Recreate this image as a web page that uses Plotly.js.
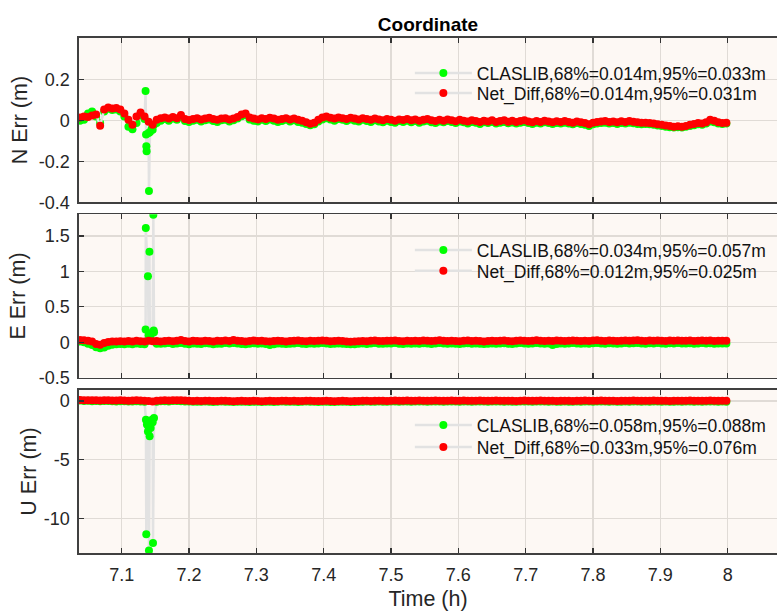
<!DOCTYPE html>
<html>
<head>
<meta charset="utf-8">
<script src="https://cdn.plot.ly/plotly-3.0.1.min.js"></script>
<style>html,body{margin:0;padding:0;background:#fff;}#chart{width:777px;height:613px;}</style>
</head>
<body>
<div id="chart"></div>
<script>
// epoch grid (hours)
const T0 = 7.038, DT = 0.006;
const xTickVals = [7.1,7.2,7.3,7.4,7.5,7.6,7.7,7.8,7.9,8.0];
const xTickText = ['7.1','7.2','7.3','7.4','7.5','7.6','7.7','7.8','7.9','8'];
const legN = ['CLASLIB,68%=0.014m,95%=0.033m','Net_Diff,68%=0.014m,95%=0.031m'];
const legE = ['CLASLIB,68%=0.034m,95%=0.057m','Net_Diff,68%=0.012m,95%=0.025m'];
const legU = ['CLASLIB,68%=0.058m,95%=0.088m','Net_Diff,68%=0.033m,95%=0.076m'];

// N error (m)
const nNet = [
0.015,0.02,0.018,0.025,0.03,-0.025,0.055,0.065,0.06,0.062,
0.055,0.035,0.005,-0.02,0.02,0.04,0.02,-0.005,-0.02,0.005,
0.012,0.015,0.01,0.018,0.012,0.028,0.008,0.003,0.008,0.012,
0.006,0.01,0.014,0.008,0.004,0.01,0.012,0.006,0.01,0.018,
0.03,0.035,0.015,0.01,0.006,0.012,0.008,0.014,0.01,0.004,
0.008,0.012,0.006,0.01,0.004,0.0,-0.008,-0.015,-0.01,0.005,
0.015,0.02,0.014,0.01,0.016,0.012,0.008,0.014,0.01,0.006,
0.012,0.008,0.004,0.01,0.006,0.002,0.008,0.004,0.0,0.006,
0.003,0.008,0.002,0.006,0.0,0.004,0.008,0.002,-0.002,0.004,
0.0,0.006,0.002,-0.003,0.004,0.0,-0.004,0.002,-0.002,-0.006,
0.0,-0.004,0.002,-0.006,-0.002,0.002,-0.005,-0.001,-0.006,-0.002,
0.002,-0.004,-0.008,-0.002,-0.006,0.0,-0.004,-0.008,-0.003,-0.006,
-0.002,-0.006,-0.01,-0.004,-0.008,-0.012,-0.018,-0.01,-0.006,-0.004,
-0.002,-0.006,-0.004,-0.008,-0.003,-0.006,-0.002,-0.005,-0.008,-0.01,
-0.01,-0.012,-0.014,-0.018,-0.02,-0.024,-0.026,-0.03,-0.028,-0.03,
-0.026,-0.02,-0.016,-0.012,-0.014,-0.008,0.004,0.0,-0.008,-0.012,-0.01];
const nCla = [
0.0,0.004,0.035,0.045,0.02,-0.012,0.045,0.058,0.052,0.055,
0.045,0.02,-0.03,-0.042,-0.012,0.025,0.008,-0.06,-0.045,-0.012,
0.0,0.008,0.0,0.01,0.004,0.018,-0.002,-0.006,0.0,0.004,
-0.004,0.002,0.006,-0.002,-0.006,0.002,0.004,-0.004,0.002,0.01,
0.022,0.028,0.006,0.0,-0.004,0.004,-0.002,0.006,0.0,-0.006,
-0.002,0.004,-0.004,0.002,-0.006,-0.01,-0.016,-0.022,-0.018,-0.004,
0.006,0.012,0.006,0.0,0.008,0.004,-0.002,0.006,0.0,-0.004,
0.004,-0.002,-0.006,0.002,-0.004,-0.008,0.0,-0.006,-0.01,-0.002,
-0.006,0.0,-0.008,-0.002,-0.01,-0.004,0.0,-0.008,-0.012,-0.004,
-0.008,-0.002,-0.006,-0.012,-0.004,-0.008,-0.014,-0.006,-0.01,-0.016,
-0.008,-0.012,-0.006,-0.014,-0.01,-0.006,-0.013,-0.009,-0.014,-0.01,
-0.006,-0.012,-0.016,-0.01,-0.014,-0.008,-0.012,-0.016,-0.011,-0.014,
-0.01,-0.014,-0.018,-0.012,-0.016,-0.02,-0.026,-0.018,-0.014,-0.012,
-0.01,-0.014,-0.012,-0.016,-0.011,-0.014,-0.01,-0.013,-0.016,-0.018,
-0.016,-0.018,-0.02,-0.024,-0.026,-0.03,-0.032,-0.034,-0.032,-0.034,
-0.03,-0.026,-0.022,-0.018,-0.02,-0.014,-0.004,-0.008,-0.014,-0.016,-0.014];
const nSpikeT = [7.1355,7.1362,7.1366,7.137,7.1405,7.142,7.1445,7.148];
const nSpikeV = [0.145,-0.068,-0.125,-0.15,-0.345,-0.055,-0.04,-0.02];

// E error (m)
const eNet = [
0.03,0.028,0.02,0.01,-0.025,-0.035,-0.01,0.005,0.01,0.012,
0.015,0.01,0.018,0.012,0.02,0.015,0.01,0.02,0.014,0.018,
0.012,0.018,0.022,0.014,0.02,0.03,0.016,0.012,0.02,0.018,
0.014,0.022,0.018,0.012,0.02,0.016,0.024,0.018,0.03,0.022,
0.016,0.012,0.018,0.024,0.016,0.02,0.014,0.01,0.016,0.022,
0.018,0.012,0.016,0.02,0.026,0.018,0.014,0.02,0.016,0.022,
0.026,0.02,0.014,0.018,0.022,0.016,0.012,0.008,0.01,0.014,
0.018,0.014,0.02,0.024,0.018,0.016,0.022,0.02,0.026,0.018,
0.014,0.02,0.016,0.022,0.018,0.024,0.02,0.016,0.022,0.028,
0.02,0.016,0.022,0.018,0.014,0.02,0.024,0.018,0.022,0.016,
0.012,0.018,0.022,0.016,0.02,0.024,0.018,0.014,0.02,0.026,
0.02,0.016,0.022,0.028,0.02,0.016,0.022,0.018,0.024,0.02,
0.016,0.022,0.026,0.02,0.016,0.022,0.018,0.024,0.028,0.022,
0.018,0.024,0.02,0.016,0.022,0.026,0.02,0.024,0.028,0.022,
0.018,0.024,0.02,0.026,0.022,0.018,0.024,0.02,0.026,0.022,
0.02,0.024,0.018,0.022,0.026,0.02,0.024,0.018,0.022,0.02,0.022];
const eCla = [
0.01,0.0,-0.02,-0.04,-0.07,-0.085,-0.075,-0.05,-0.035,-0.03,
-0.025,-0.03,-0.02,-0.028,-0.018,-0.024,-0.03,0.1,0.14,-0.02,
-0.022,-0.016,-0.012,-0.024,-0.018,-0.01,-0.02,-0.028,-0.016,-0.02,
-0.026,-0.014,-0.018,-0.03,-0.02,-0.022,-0.012,-0.018,-0.01,-0.016,
-0.024,-0.028,-0.02,-0.014,-0.022,-0.018,-0.026,-0.04,-0.03,-0.016,
-0.02,-0.026,-0.022,-0.016,-0.01,-0.02,-0.024,-0.018,-0.022,-0.016,
-0.012,-0.018,-0.024,-0.02,-0.016,-0.022,-0.026,-0.03,-0.028,-0.022,
-0.018,-0.024,-0.016,-0.012,-0.02,-0.022,-0.016,-0.018,-0.012,-0.02,
-0.024,-0.018,-0.022,-0.016,-0.02,-0.014,-0.018,-0.024,-0.016,-0.01,
-0.018,-0.022,-0.016,-0.02,-0.026,-0.018,-0.014,-0.02,-0.016,-0.022,
-0.026,-0.02,-0.016,-0.022,-0.018,-0.014,-0.02,-0.024,-0.018,-0.012,
-0.018,-0.022,-0.016,-0.01,-0.018,-0.022,-0.016,-0.04,-0.024,-0.018,
-0.022,-0.016,-0.012,-0.018,-0.022,-0.016,-0.02,-0.014,-0.01,-0.016,
-0.02,-0.014,-0.018,-0.022,-0.016,-0.012,-0.018,-0.014,-0.01,-0.016,
-0.02,-0.014,-0.018,-0.012,-0.016,-0.02,-0.014,-0.018,-0.012,-0.016,
-0.018,-0.014,-0.02,-0.016,-0.012,-0.018,-0.014,-0.02,-0.016,-0.018,-0.016];
const eSpikeT = [7.1355,7.1358,7.139,7.1412,7.1418,7.143,7.147,7.1475,7.148];
const eSpikeV = [0.18,1.61,0.93,1.276,0.12,0.1,1.8,0.165,0.14];

// U error (m)
const uNet = [
0.08,0.06,0.07,0.05,0.06,0.04,0.05,0.06,0.04,0.03,
0.05,0.04,0.02,0.03,0.05,0.04,0.02,0.0,-0.04,0.02,
0.04,0.05,0.03,0.06,0.07,0.05,0.03,0.02,0.0,0.01,
0.0,0.02,0.01,-0.01,0.0,0.02,0.01,0.0,-0.02,0.0,
0.01,0.0,-0.01,0.01,0.0,-0.02,0.0,0.01,-0.01,0.0,
0.02,0.01,0.0,0.01,-0.01,0.0,0.02,0.01,0.0,-0.01,
0.0,0.01,-0.01,-0.02,0.0,0.01,0.0,-0.02,-0.01,0.0,
0.01,0.02,0.0,0.01,0.02,0.01,0.0,0.02,0.03,0.01,
0.02,0.03,0.01,0.02,0.03,0.02,0.01,0.02,0.03,0.02,
0.01,0.02,0.03,0.02,0.01,0.03,0.02,0.01,0.02,0.03,
0.02,0.01,0.02,0.03,0.02,0.01,0.02,0.01,0.0,0.02,
0.03,0.02,0.01,0.02,0.03,0.02,0.01,0.02,0.0,0.01,
0.02,0.01,0.0,0.02,0.01,0.03,0.02,0.01,0.02,0.03,
0.02,0.01,0.02,0.0,0.01,0.02,0.01,0.03,0.02,0.01,
0.02,0.01,0.03,0.02,0.01,0.02,0.0,0.01,0.02,0.01,
0.02,0.03,0.01,0.02,0.01,0.02,0.03,0.02,0.01,0.02,0.01];
const uCla = [
0.03,0.0,0.02,-0.02,0.0,-0.03,-0.01,0.0,-0.03,-0.04,
-0.02,-0.03,-0.05,-0.04,-0.02,-0.04,-0.06,-2.2,-1.8,-0.06,
-0.03,-0.02,-0.04,-0.01,0.0,-0.02,-0.04,-0.05,-0.07,-0.06,
-0.07,-0.05,-0.06,-0.08,-0.07,-0.05,-0.06,-0.07,-0.09,-0.07,
-0.06,-0.07,-0.08,-0.06,-0.07,-0.09,-0.07,-0.06,-0.08,-0.07,
-0.05,-0.06,-0.07,-0.06,-0.08,-0.07,-0.05,-0.06,-0.07,-0.08,
-0.07,-0.06,-0.08,-0.09,-0.07,-0.06,-0.07,-0.09,-0.08,-0.07,
-0.06,-0.05,-0.07,-0.06,-0.05,-0.06,-0.07,-0.05,-0.04,-0.06,
-0.05,-0.04,-0.06,-0.05,-0.04,-0.05,-0.06,-0.05,-0.04,-0.05,
-0.06,-0.05,-0.04,-0.05,-0.06,-0.04,-0.05,-0.06,-0.05,-0.04,
-0.05,-0.06,-0.05,-0.04,-0.05,-0.06,-0.05,-0.06,-0.07,-0.05,
-0.04,-0.05,-0.06,-0.05,-0.04,-0.05,-0.06,-0.05,-0.07,-0.06,
-0.05,-0.06,-0.07,-0.05,-0.06,-0.04,-0.05,-0.06,-0.05,-0.04,
-0.05,-0.06,-0.05,-0.07,-0.06,-0.05,-0.06,-0.04,-0.05,-0.06,
-0.05,-0.06,-0.04,-0.05,-0.06,-0.05,-0.07,-0.06,-0.05,-0.06,
-0.05,-0.04,-0.06,-0.05,-0.06,-0.05,-0.04,-0.05,-0.06,-0.05,-0.06];
const uSpikeT = [7.136,7.1365,7.1375,7.139,7.1405,7.1415,7.143,7.145,7.1465,7.148];
const uSpikeV = [-1.6,-11.3,-2.0,-2.6,-12.68,-3.0,-2.3,-1.6,-12.06,-1.45];

function series(vals, st, sv) {
  const pts = vals.map((v, i) => [T0 + DT * i, v]);
  if (st) st.forEach((t, k) => pts.push([t, sv[k]]));
  pts.sort((a, b) => a[0] - b[0]);
  return { x: pts.map(p => p[0]), y: pts.map(p => p[1]) };
}

const GREEN = '#00ff00', RED = '#ff0000', LINE = '#e2e2e2';
const FONT = 'Liberation Sans, Arial, Helvetica, sans-serif';
const TXT = '#262626';

function mk(s, color, name, xa, ya, leg) {
  return {
    type: 'scatter', mode: 'lines+markers', x: s.x, y: s.y, name: name,
    xaxis: xa, yaxis: ya, legend: leg,
    line: { color: LINE, width: 2.5 },
    marker: { color: color, size: 8, line: { width: 0 } },
    hoverinfo: 'skip'
  };
}

const data = [
  mk(series(nCla, nSpikeT, nSpikeV), GREEN, legN[0], 'x', 'y', 'legend'),
  mk(series(nNet), RED, legN[1], 'x', 'y', 'legend2'),
  mk(series(eCla, eSpikeT, eSpikeV), GREEN, legE[0], 'x2', 'y2', 'legend3'),
  mk(series(eNet), RED, legE[1], 'x2', 'y2', 'legend4'),
  mk(series(uCla, uSpikeT, uSpikeV), GREEN, legU[0], 'x3', 'y3', 'legend5'),
  mk(series(uNet), RED, legU[1], 'x3', 'y3', 'legend6')
];

const XR = [7.0366, 8.0732];
function xax(anchor, labels) {
  return {
    anchor: anchor, domain: [0, 1], range: XR, tickmode: 'array',
    tickvals: xTickVals, ticktext: xTickText, showticklabels: labels,
    ticks: 'inside', ticklen: 5, tickwidth: 1.2, tickcolor: '#333',
    showline: true, linecolor: '#404040', linewidth: 1.6, mirror: 'ticks',
    showgrid: true, gridcolor: '#e0dbd6', gridwidth: 1.2, zeroline: false,
    tickfont: { family: FONT, size: 18, color: TXT }, ticklabelstandoff: 5
  };
}
function yax(anchor, domain, range, tv, tt, title, standoff) {
  return {
    anchor: anchor, domain: domain, range: range, tickmode: 'array',
    tickvals: tv, ticktext: tt,
    ticks: 'inside', ticklen: 5, tickwidth: 1.2, tickcolor: '#333',
    showline: true, linecolor: '#404040', linewidth: 1.6, mirror: false,
    showgrid: true, gridcolor: '#e0dbd6', gridwidth: 1.2, zeroline: false,
    tickfont: { family: FONT, size: 18, color: TXT }, ticklabelstandoff: 4,
    title: { text: title, font: { family: FONT, size: 21.5, color: TXT }, standoff: standoff }
  };
}
function leg(y) {
  return {
    x: 0.474, y: y, xanchor: 'left', yanchor: 'middle', bgcolor: 'rgba(0,0,0,0)',
    borderwidth: 0, itemwidth: 57, tracegroupgap: 0,
    font: { family: FONT, size: 17.5, color: '#111' }
  };
}

const layout = {
  width: 777, height: 613,
  margin: { l: 79, r: 0, t: 38, b: 60, autoexpand: false },
  paper_bgcolor: '#ffffff', plot_bgcolor: '#fdf8f4',
  showlegend: true,
  title: { text: '<b>Coordinate</b>', x: 0.5, xref: 'paper', xanchor: 'center',
           y: 1 - 24 / 613, yref: 'container', yanchor: 'middle',
           font: { family: FONT, size: 19, color: '#000' } },
  xaxis: xax('y', false),
  xaxis2: xax('y2', false),
  xaxis3: Object.assign(xax('y3', true), {
    title: { text: 'Time (h)', font: { family: FONT, size: 21.5, color: TXT }, standoff: 7 } }),
  yaxis: yax('x', [0.681, 1], [-0.4, 0.405], [-0.4, -0.2, 0, 0.2], ['-0.4', '-0.2', '0', '0.2'], 'N Err (m)', 5),
  yaxis2: yax('x2', [0.3404, 0.6577], [-0.5, 1.805], [-0.5, 0, 0.5, 1, 1.5], ['-0.5', '0', '0.5', '1', '1.5'], 'E Err (m)', 7),
  yaxis3: yax('x3', [0, 0.3165], [-12.9, 0.93], [-10, -5, 0], ['-10', '-5', '0'], 'U Err (m)', 1),
  legend: leg(0.932),
  legend2: leg(0.8932),
  legend3: leg(0.5883),
  legend4: leg(0.5476),
  legend5: leg(0.2485),
  legend6: leg(0.2058)
};

Plotly.newPlot('chart', data, layout, { displayModeBar: false, staticPlot: true });
</script>
</body>
</html>
